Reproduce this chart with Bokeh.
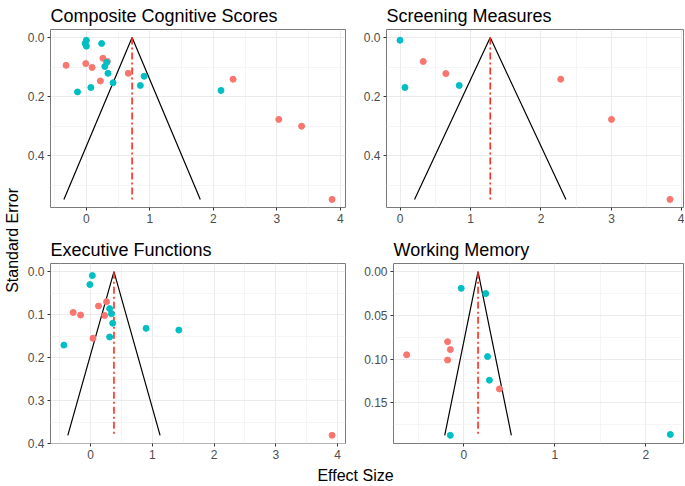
import math
from bokeh.plotting import figure
from bokeh.models import Range1d, FixedTicker
from bokeh.layouts import row, column
from bokeh.core.properties import value
from bokeh.embed import file_html
from bokeh.resources import INLINE

# ---------------- data ----------------
titles = ["Composite Cognitive Scores", "Screening Measures", "Executive Functions", "Working Memory"]

# Composite Cognitive Scores
cc_red_x = [-0.32, -0.01, 0.09, 0.26, 0.33, 0.22, 0.66, 2.31, 3.03, 3.39, 3.87]
cc_red_se = [0.094, 0.088, 0.101, 0.070, 0.081, 0.147, 0.121, 0.141, 0.277, 0.300, 0.548]
cc_cyan_x = [0.00, -0.02, 0.00, 0.24, 0.29, 0.32, 0.34, 0.42, 0.91, 0.85, 0.07, -0.14, 2.12]
cc_cyan_se = [0.009, 0.020, 0.029, 0.020, 0.098, 0.084, 0.121, 0.153, 0.131, 0.162, 0.169, 0.184, 0.179]
cc_mean = 0.72

# Screening Measures
sm_red_x = [0.33, 0.65, 2.28, 3.00, 3.83]
sm_red_se = [0.081, 0.122, 0.141, 0.277, 0.548]
sm_cyan_x = [0.00, 0.07, 0.84]
sm_cyan_se = [0.009, 0.169, 0.162]
sm_mean = 1.28

# Executive Functions
ef_red_x = [-0.28, -0.16, 0.13, 0.26, 0.23, 0.04, 3.91]
ef_red_se = [0.095, 0.101, 0.080, 0.070, 0.102, 0.155, 0.381]
ef_cyan_x = [0.03, -0.01, 0.31, 0.34, 0.36, 0.31, 0.90, 1.43, -0.43]
ef_cyan_se = [0.009, 0.030, 0.086, 0.098, 0.120, 0.152, 0.132, 0.136, 0.171]
ef_mean = 0.38

# Working Memory
wm_red_x = [-0.63, -0.18, -0.15, -0.18, 0.39]
wm_red_se = [0.095, 0.080, 0.089, 0.101, 0.134]
wm_cyan_x = [-0.03, 0.24, 0.26, 0.28, -0.15, 2.27]
wm_cyan_se = [0.019, 0.025, 0.097, 0.124, 0.187, 0.186]
wm_mean = 0.155

# tick labels
x_ticks_4 = [0, 1, 2, 3, 4]
x_labels_4 = ["0", "1", "2", "3", "4"]
x_minor_4 = [-0.5, 0.5, 1.5, 2.5, 3.5]
x_ticks_2 = [0, 1, 2]
x_labels_2 = ["0", "1", "2"]
x_minor_2 = [-0.5, 0.5, 1.5]
y_ticks_a = [0.0, 0.2, 0.4]
y_labels_a = ["0.0", "0.2", "0.4"]
y_minor_a = [0.1, 0.3, 0.5]
y_ticks_b = [0.0, 0.1, 0.2, 0.3, 0.4]
y_labels_b = ["0.0", "0.1", "0.2", "0.3", "0.4"]
y_minor_b = [0.05, 0.15, 0.25, 0.35]
y_ticks_c = [0.0, 0.05, 0.10, 0.15]
y_labels_c = ["0.00", "0.05", "0.10", "0.15"]
y_minor_c = [0.025, 0.075, 0.125, 0.175]

RED = "#F8766D"
CYAN = "#00BFC4"
FONT = "Liberation Sans"


def panel(title, w, h, bl, br, bt, bb, rx, rse, cx, cse, mean,
          xt, xl, xm, yt, yl, ym):
    semax = max(rse + cse)
    lo = min(rx + cx + [mean - 1.96 * semax])
    hi = max(rx + cx + [mean + 1.96 * semax])
    pad = 0.05 * (hi - lo)
    ypad = 0.05 * semax
    p = figure(width=w, height=h, output_backend="svg", toolbar_location=None,
               x_range=Range1d(lo - pad, hi + pad),
               y_range=Range1d(semax + ypad, -ypad),
               min_border_left=bl, min_border_right=br,
               min_border_top=bt, min_border_bottom=bb,
               title=title)
    p.title.text_font = FONT
    p.title.text_font_size = "18px"
    p.title.text_font_style = "normal"
    p.title.text_color = "#000000"
    p.title.standoff = 7
    p.background_fill_color = "white"
    p.border_fill_color = "white"
    p.outline_line_color = "#7a7a7a"
    p.outline_line_width = 1

    xtick = FixedTicker(ticks=xt, minor_ticks=xm)
    ytick = FixedTicker(ticks=yt, minor_ticks=ym)
    p.xaxis.ticker = xtick
    p.yaxis.ticker = ytick
    p.xgrid.ticker = xtick
    p.ygrid.ticker = ytick
    p.xaxis.major_label_overrides = {t: l for t, l in zip(xt, xl)}
    p.yaxis.major_label_overrides = {t: l for t, l in zip(yt, yl)}
    for ax in (p.xaxis, p.yaxis):
        ax.axis_line_color = None
        ax.major_tick_line_color = "#333333"
        ax.major_tick_out = 3
        ax.major_tick_in = 0
        ax.minor_tick_line_color = None
        ax.major_label_text_font = FONT
        ax.major_label_text_font_size = "12px"
        ax.major_label_text_color = "#4D4D4D"
        ax.major_label_standoff = 2
    for g in (p.xgrid, p.ygrid):
        g.grid_line_color = "#EBEBEB"
        g.grid_line_width = 1
        g.minor_grid_line_color = "#F2F2F2"
        g.minor_grid_line_width = 0.8

    # funnel
    p.line([mean - 1.96 * semax, mean, mean + 1.96 * semax], [semax, 0, semax],
           line_color="black", line_width=1.2)
    p.line([mean, mean], [0, semax], line_color="#FF2A1A", line_width=1.6,
           line_dash="7 3 2 3")
    p.scatter(rx, rse, size=6, fill_color=RED, line_color=RED)
    p.scatter(cx, cse, size=6, fill_color=CYAN, line_color=CYAN)
    return p


p1 = panel(titles[0], 326, 228, 25, 5, 27, 21, cc_red_x, cc_red_se, cc_cyan_x, cc_cyan_se, cc_mean,
           x_ticks_4, x_labels_4, x_minor_4, y_ticks_a, y_labels_a, y_minor_a)
p2 = panel(titles[1], 334, 228, 36, 1, 27, 21, sm_red_x, sm_red_se, sm_cyan_x, sm_cyan_se, sm_mean,
           x_ticks_4, x_labels_4, x_minor_4, y_ticks_a, y_labels_a, y_minor_a)
p3 = panel(titles[2], 326, 236, 25, 5, 33, 20, ef_red_x, ef_red_se, ef_cyan_x, ef_cyan_se, ef_mean,
           x_ticks_4, x_labels_4, x_minor_4, y_ticks_b, y_labels_b, y_minor_b)
p4 = panel(titles[3], 334, 236, 43, 1, 35, 21, wm_red_x, wm_red_se, wm_cyan_x, wm_cyan_se, wm_mean,
           x_ticks_2, x_labels_2, x_minor_2, y_ticks_c, y_labels_c, y_minor_c)


def strip(w, h, text, x, y, angle):
    s = figure(width=w, height=h, output_backend="svg", toolbar_location=None,
               x_range=Range1d(0, 1), y_range=Range1d(0, 1),
               x_axis_type=None, y_axis_type=None,
               min_border_left=0, min_border_right=0, min_border_top=0, min_border_bottom=0)
    s.outline_line_color = None
    s.grid.visible = False
    s.background_fill_color = "white"
    s.border_fill_color = "white"
    s.text(x=[x], y=[y], text=[text], angle=angle, text_align="center", text_baseline="middle",
           text_font=value(FONT), text_font_size="16px", text_color="black")
    return s


left = strip(24, 464, "Standard Error", 0.5, 0.483, math.pi / 2)
bottom = strip(684, 21, "Effect Size", 0.519, 0.5, 0)

layout = column(row(left, column(row(p1, p2), row(p3, p4))), bottom)

open("out.html", "w").write(file_html(layout, INLINE))
